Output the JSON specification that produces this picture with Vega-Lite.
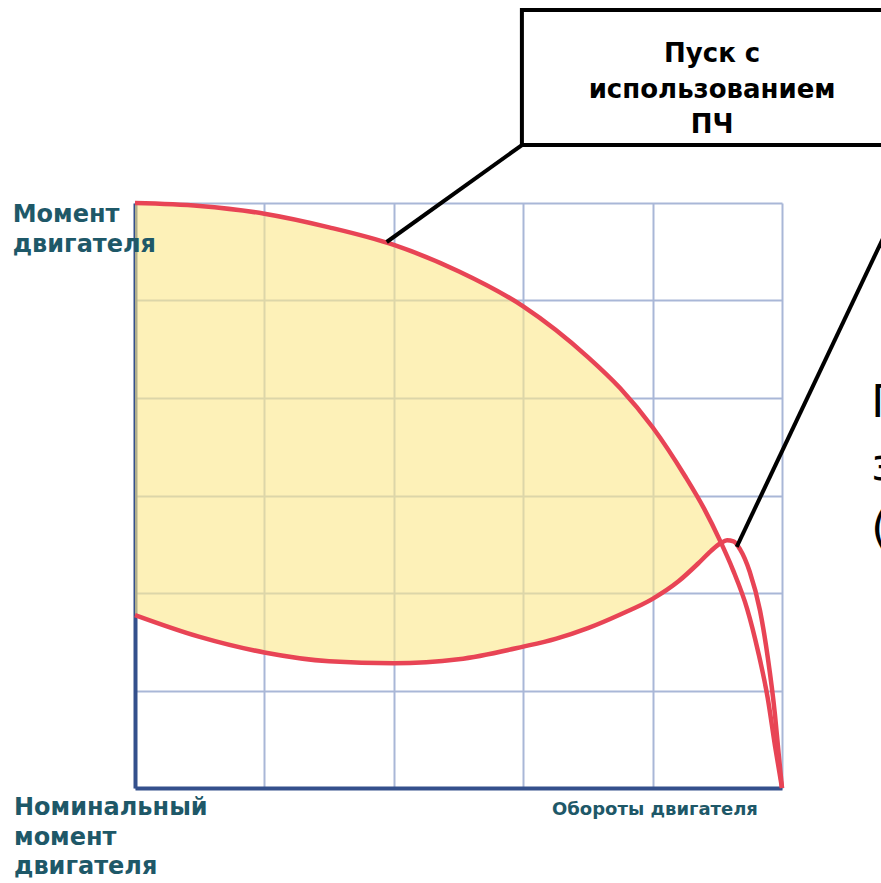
{
  "$schema": "https://vega.github.io/schema/vega-lite/v6.json",
  "width": 647,
  "height": 585,
  "autosize": {"type": "none"},
  "padding": {"left": 135, "top": 203, "right": 99, "bottom": 95},
  "background": "white",
  "config": {"view": {"stroke": null}, "font": "DejaVu Sans"},
  "datasets": {
    "band": [
      {"x": 0, "y": 300, "y2": 88.7},
      {"x": 10, "y": 298.5, "y2": 77.5},
      {"x": 20, "y": 294.5, "y2": 69.5},
      {"x": 30, "y": 287.5, "y2": 65},
      {"x": 40, "y": 278.5, "y2": 64},
      {"x": 50, "y": 265, "y2": 66},
      {"x": 60, "y": 247, "y2": 72.5},
      {"x": 70, "y": 221, "y2": 82},
      {"x": 75, "y": 205, "y2": 89},
      {"x": 80, "y": 185, "y2": 97},
      {"x": 84, "y": 165, "y2": 106},
      {"x": 87, "y": 149, "y2": 115},
      {"x": 89, "y": 136, "y2": 121.5},
      {"x": 90.4, "y": 127, "y2": 125.3}
    ],
    "curves": [
      {"s": "upper", "x": 0, "y": 300},
      {"s": "upper", "x": 10, "y": 298.5},
      {"s": "upper", "x": 20, "y": 294.5},
      {"s": "upper", "x": 30, "y": 287.5},
      {"s": "upper", "x": 40, "y": 278.5},
      {"s": "upper", "x": 50, "y": 265},
      {"s": "upper", "x": 60, "y": 247},
      {"s": "upper", "x": 70, "y": 221},
      {"s": "upper", "x": 75, "y": 205},
      {"s": "upper", "x": 80, "y": 185},
      {"s": "upper", "x": 85, "y": 160},
      {"s": "upper", "x": 88, "y": 143},
      {"s": "upper", "x": 90.4, "y": 127},
      {"s": "upper", "x": 92.4, "y": 112},
      {"s": "upper", "x": 94.6, "y": 92},
      {"s": "upper", "x": 96.3, "y": 70},
      {"s": "upper", "x": 97.8, "y": 46},
      {"s": "upper", "x": 98.9, "y": 22},
      {"s": "upper", "x": 100, "y": 0},
      {"s": "lower", "x": 0, "y": 88.7},
      {"s": "lower", "x": 10, "y": 77.5},
      {"s": "lower", "x": 20, "y": 69.5},
      {"s": "lower", "x": 30, "y": 65},
      {"s": "lower", "x": 40, "y": 64},
      {"s": "lower", "x": 50, "y": 66},
      {"s": "lower", "x": 60, "y": 72.5},
      {"s": "lower", "x": 65, "y": 76.5},
      {"s": "lower", "x": 70, "y": 82},
      {"s": "lower", "x": 75, "y": 89},
      {"s": "lower", "x": 80, "y": 97},
      {"s": "lower", "x": 84, "y": 106},
      {"s": "lower", "x": 87, "y": 115},
      {"s": "lower", "x": 89, "y": 121.5},
      {"s": "lower", "x": 90.5, "y": 125.5},
      {"s": "lower", "x": 91.5, "y": 127},
      {"s": "lower", "x": 92.5, "y": 126.5},
      {"s": "lower", "x": 93.5, "y": 122.5},
      {"s": "lower", "x": 95, "y": 111},
      {"s": "lower", "x": 96.6, "y": 91},
      {"s": "lower", "x": 97.8, "y": 67},
      {"s": "lower", "x": 98.9, "y": 38},
      {"s": "lower", "x": 99.5, "y": 17},
      {"s": "lower", "x": 100, "y": 0}
    ],
    "leaders": [
      {"id": "a", "x": 59.8, "y": 329.7},
      {"id": "a", "x": 38.9, "y": 280},
      {"id": "b", "x": 93, "y": 123.7},
      {"id": "b", "x": 118.2, "y": 300}
    ]
  },
  "encoding": {
    "x": {
      "field": "x",
      "type": "quantitative",
      "scale": {"domain": [0, 100], "nice": false, "zero": false},
      "axis": {
        "values": [0, 20, 40, 60, 80, 100],
        "labels": false,
        "ticks": false,
        "title": null,
        "grid": true,
        "gridColor": "#a9b7d7",
        "gridWidth": 2,
        "domainColor": "#34508c",
        "domainWidth": 4
      }
    },
    "y": {
      "field": "y",
      "type": "quantitative",
      "scale": {"domain": [0, 300], "nice": false, "zero": false},
      "axis": {
        "values": [0, 50, 100, 150, 200, 250, 300],
        "labels": false,
        "ticks": false,
        "title": null,
        "grid": true,
        "gridColor": "#a9b7d7",
        "gridWidth": 2,
        "domainColor": "#34508c",
        "domainWidth": 4
      }
    }
  },
  "layer": [
    {
      "data": {"name": "band"},
      "mark": {"type": "area", "color": "#fbe98c", "opacity": 0.62, "interpolate": "monotone"},
      "encoding": {"y2": {"field": "y2"}}
    },
    {
      "data": {"name": "curves"},
      "mark": {"type": "line", "color": "#e84455", "strokeWidth": 4.5, "interpolate": "monotone"},
      "encoding": {"detail": {"field": "s"}}
    },
    {
      "data": {"values": [{"x": 59.8, "x2": 130, "y": 399, "y2": 329.7}]},
      "mark": {"type": "rect", "fill": "white", "stroke": "black", "strokeWidth": 4},
      "encoding": {"x2": {"field": "x2"}, "y2": {"field": "y2"}}
    },
    {
      "data": {"name": "leaders"},
      "mark": {"type": "line", "color": "black", "strokeWidth": 4},
      "encoding": {"detail": {"field": "id"}}
    },
    {
      "data": {"values": [{"x": 89.2, "y": 372.3, "label": "Пуск с\nиспользованием\nПЧ"}]},
      "mark": {"type": "text", "align": "center", "baseline": "alphabetic", "fontSize": 26, "fontWeight": "bold", "color": "black", "lineHeight": 35.5, "lineBreak": "\n"},
      "encoding": {"text": {"field": "label"}}
    },
    {
      "data": {"values": [{"x": -18.9, "y": 290.3, "label": "Момент\nдвигателя"}]},
      "mark": {"type": "text", "align": "left", "baseline": "alphabetic", "fontSize": 24, "fontWeight": "bold", "color": "#1e5868", "lineHeight": 30, "lineBreak": "\n"},
      "encoding": {"text": {"field": "label"}}
    },
    {
      "data": {"values": [{"x": -18.7, "y": -13.85, "label": "Номинальный\nмомент\nдвигателя"}]},
      "mark": {"type": "text", "align": "left", "baseline": "alphabetic", "fontSize": 24, "fontWeight": "bold", "color": "#1e5868", "lineHeight": 29.5, "lineBreak": "\n"},
      "encoding": {"text": {"field": "label"}}
    },
    {
      "data": {"values": [{"x": 64.45, "y": -13.85, "label": "Обороты двигателя"}]},
      "mark": {"type": "text", "align": "left", "baseline": "alphabetic", "fontSize": 18, "fontWeight": "bold", "color": "#1e5868"},
      "encoding": {"text": {"field": "label"}}
    },
    {
      "data": {"values": [{"x": 113.8, "y": 190.3, "label": "П\nз\n("}]},
      "mark": {"type": "text", "align": "left", "baseline": "alphabetic", "fontSize": 44, "color": "black", "lineHeight": 63, "lineBreak": "\n"},
      "encoding": {"text": {"field": "label"}}
    }
  ]
}
